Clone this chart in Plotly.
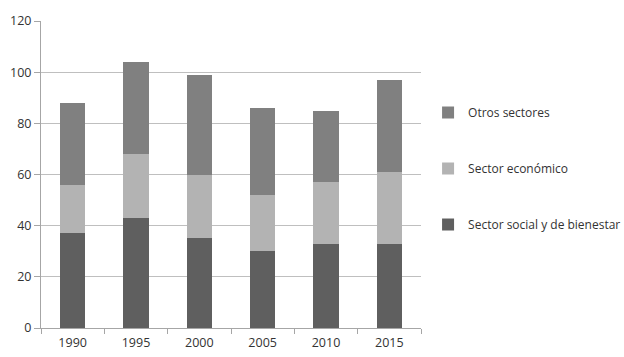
import plotly.graph_objects as go

years = ["1990", "1995", "2000", "2005", "2010", "2015"]
social = [37, 43, 35, 30, 33, 33]
economico = [19, 25, 25, 22, 24, 28]
otros = [32, 36, 39, 34, 28, 36]

series = [
    ("Sector social y de bienestar", social, "#5f5f5f", 3),
    ("Sector económico", economico, "#b3b3b3", 2),
    ("Otros sectores", otros, "#808080", 1),
]

fig = go.Figure()
for name, vals, color, rank in series:
    fig.add_trace(go.Bar(x=years, y=vals, name=name, marker_color=color,
                         marker_line_width=0, legendgroup=name, legendrank=rank))

fig.update_layout(
    barmode="stack",
    bargap=0.6,
    width=624, height=357,
    margin=dict(l=41, r=203, t=21, b=29),
    paper_bgcolor="white", plot_bgcolor="white",
    font=dict(family="Open Sans", size=12.5, color="#333333"),
    legend=dict(traceorder="grouped", tracegroupgap=37,
                xref="container", yref="container",
                x=0.686, y=0.528, xanchor="left", yanchor="middle",
                font=dict(size=12, color="#333333"), itemwidth=30,
                bgcolor="rgba(0,0,0,0)", borderwidth=0),
    showlegend=True,
)
fig.update_xaxes(showline=True, linecolor="#a6a6a6", linewidth=1,
                 ticks="outside", tickson="boundaries", ticklen=5, tickcolor="#a6a6a6",
                 ticklabelstandoff=3,
                 showgrid=False, automargin=False)
fig.update_yaxes(range=[0, 120], dtick=20, showline=True, linecolor="#a6a6a6", linewidth=1,
                 gridcolor="#bfbfbf", gridwidth=1, ticks="outside", ticklen=6,
                 tickcolor="#a6a6a6", zeroline=False, automargin=False)

fig.write_html("out.html", config={"displayModeBar": False},
               post_script="document.body.style.margin='0';")
